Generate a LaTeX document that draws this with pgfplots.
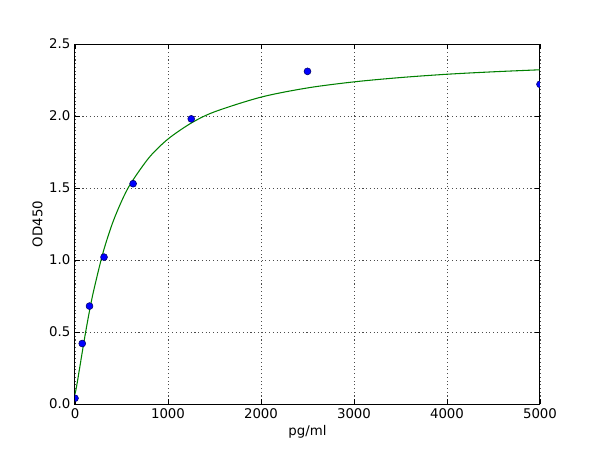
\documentclass[border=0pt]{standalone}
\usepackage{fontspec}
\setmainfont{DejaVu Sans}
\usepackage{pgfplots}
\pgfplotsset{compat=1.18}
\usetikzlibrary{calc}
\definecolor{mplgreen}{rgb}{0,0.5,0}
\begin{document}
\begin{tikzpicture}
\begin{axis}[
    name=ax,
    scale only axis,
    width=348.75pt,
    height=270pt,
    xmin=0, xmax=5000,
    ymin=0, ymax=2.5,
    xtick={0,1000,2000,3000,4000,5000},
    ytick={0,0.5,1,1.5,2,2.5},
    yticklabel style={/pgf/number format/.cd,fixed,fixed zerofill,precision=1},
    xticklabel style={/pgf/number format/.cd,1000 sep={}},
    /pgf/number format/assume math mode=true,
    scaled x ticks=false,
    tick align=inside,
    tick pos=both,
    major tick length=4pt,
    tick style={black, line width=0.5pt},
    grid=major,
    grid style={black!70, dash pattern=on 0.8pt off 2pt, line width=0.5pt},
    axis line style={black, line width=0.75pt},
    xlabel={pg/ml},
    ylabel={OD450},
    xlabel style={yshift=2pt},
    ylabel style={yshift=-2pt},
    clip marker paths=true,
]
\addplot[mplgreen, line width=0.8pt, smooth] coordinates {
    (0,0.07) (5,0.082) (10,0.098) (25,0.152) (50,0.250) (100,0.446)
    (150,0.626) (200,0.785) (300,1.048) (400,1.250) (500,1.407)
    (600,1.532) (800,1.714) (1000,1.840) (1250,1.951) (1500,2.029)
    (2000,2.131) (2500,2.195) (3000,2.237) (3500,2.267) (4000,2.290)
    (4500,2.307) (5000,2.321)
};
\addplot[only marks, mark=*, mark size=2.6pt,
    mark options={fill=blue, draw=black!60!blue, line width=0.4pt}] coordinates {
    (0,0.04) (78,0.42) (156,0.68) (312,1.02) (625,1.53)
    (1250,1.98) (2500,2.31) (5000,2.22)
};
\end{axis}
\pgfresetboundingbox
\path[use as bounding box] ($(ax.south west)+(-56.25pt,-34.5pt)$) rectangle ($(ax.north east)+(45pt,33pt)$);
\end{tikzpicture}
\end{document}
